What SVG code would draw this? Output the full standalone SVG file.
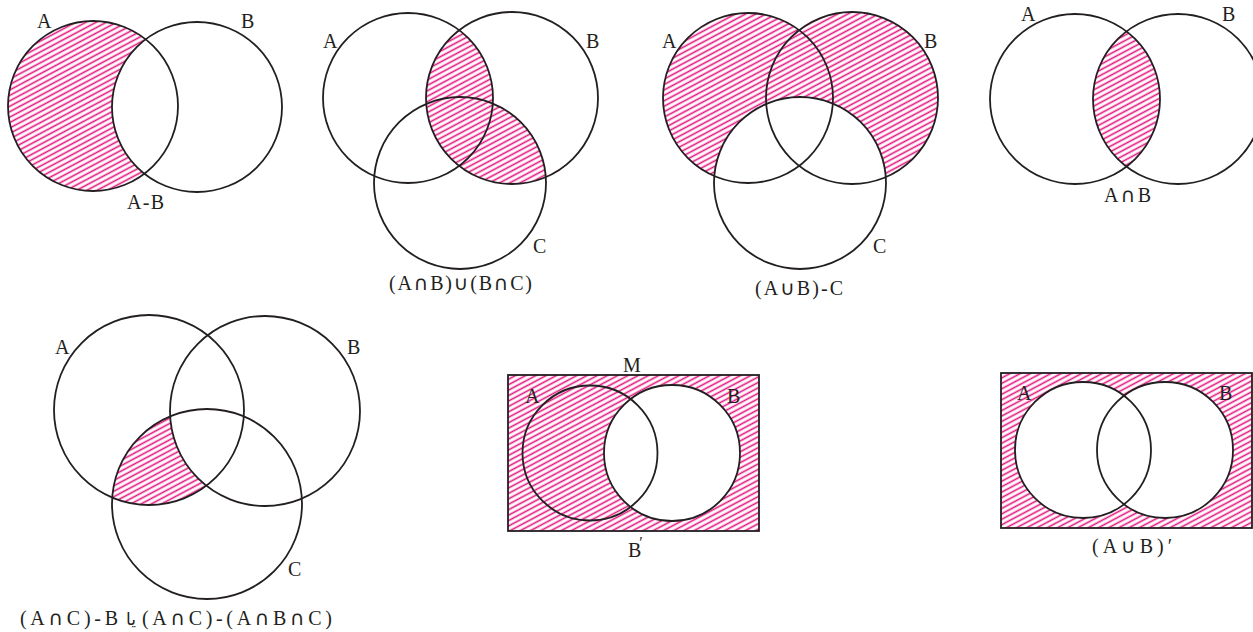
<svg xmlns="http://www.w3.org/2000/svg" width="1253" height="632" viewBox="0 0 1253 632">
<style>
.o{fill:none;stroke:#231f20;stroke-width:1.8}
.w{fill:#fff;stroke:none}
.h{fill:url(#hatch);stroke:none}
text{font-family:"Liberation Serif","DejaVu Serif",serif;font-size:20px;fill:#231f20}
.f{text-anchor:middle}
.s{font-family:"DejaVu Sans",sans-serif;font-size:20px}
</style>
<defs>
<pattern id="hatch" patternUnits="userSpaceOnUse" width="10" height="4.8" patternTransform="rotate(-28)">
<rect width="10" height="4.8" fill="#fff"/>
<line x1="0" y1="2.4" x2="10" y2="2.4" stroke="#e3147f" stroke-width="1.6"/>
</pattern>
<clipPath id="c2"><circle cx="408" cy="98" r="85"/><circle cx="460" cy="183" r="86"/></clipPath>
<clipPath id="c4"><circle cx="1178" cy="99" r="85"/></clipPath>
<clipPath id="c5"><circle cx="149" cy="410" r="95"/></clipPath>
</defs>
<rect width="1253" height="632" fill="#fff"/>

<g id="d1">
<circle class="h" cx="93" cy="106" r="85"/>
<circle class="w" cx="197" cy="107" r="85"/>
<circle class="o" cx="93" cy="106" r="85"/>
<circle class="o" cx="197" cy="107" r="85"/>
<text x="37" y="28">A</text>
<text x="241" y="28">B</text>
<text x="127" y="209" textLength="37">A-B</text>
</g>

<g id="d2">
<circle class="h" cx="512" cy="98" r="86" clip-path="url(#c2)"/>
<circle class="o" cx="408" cy="98" r="85"/>
<circle class="o" cx="512" cy="98" r="86"/>
<circle class="o" cx="460" cy="183" r="86"/>
<text x="323" y="48">A</text>
<text x="586" y="48">B</text>
<text x="533" y="253">C</text>
<text x="389" y="290" textLength="143">(A<tspan class="s">∩</tspan>B)<tspan class="s">∪</tspan>(B<tspan class="s">∩</tspan>C)</text>
</g>

<g id="d3">
<circle class="h" cx="748" cy="98" r="85"/>
<circle class="h" cx="852" cy="98" r="86"/>
<circle class="w" cx="800" cy="183" r="86"/>
<circle class="o" cx="748" cy="98" r="85"/>
<circle class="o" cx="852" cy="98" r="86"/>
<circle class="o" cx="800" cy="183" r="86"/>
<text x="662" y="48">A</text>
<text x="924" y="48">B</text>
<text x="873" y="253">C</text>
<text x="755" y="295" textLength="88">(A<tspan class="s">∪</tspan>B)-C</text>
</g>

<g id="d4">
<circle class="h" cx="1075" cy="99" r="85" clip-path="url(#c4)"/>
<circle class="o" cx="1075" cy="99" r="85"/>
<circle class="o" cx="1178" cy="99" r="85"/>
<text x="1021" y="21">A</text>
<text x="1222" y="21">B</text>
<text x="1104" y="202" textLength="47">A<tspan class="s">∩</tspan>B</text>
</g>

<g id="d5">
<circle class="h" cx="207" cy="504" r="95" clip-path="url(#c5)"/>
<circle class="w" cx="265" cy="411" r="95" clip-path="url(#c5)"/>
<circle class="o" cx="149" cy="410" r="95"/>
<circle class="o" cx="265" cy="411" r="95"/>
<circle class="o" cx="207" cy="504" r="95"/>
<text x="55" y="354">A</text>
<text x="347" y="354">B</text>
<text x="288" y="576">C</text>
<text x="20" y="625" textLength="98">(A<tspan class="s">∩</tspan>C)-B</text>
<text x="131" y="625" class="f" style="font-family:'DejaVu Sans',sans-serif;font-size:17px">یا</text>
<text x="142" y="625" textLength="190">(A<tspan class="s">∩</tspan>C)-(A<tspan class="s">∩</tspan>B<tspan class="s">∩</tspan>C)</text>
</g>

<g id="d6">
<rect class="h" x="508" y="375" width="251" height="156"/>
<circle class="w" cx="672" cy="453" r="68"/>
<rect class="o" x="508" y="375" width="251" height="156"/>
<circle class="o" cx="590" cy="453" r="67.5"/>
<circle class="o" cx="672" cy="453" r="68"/>
<text x="623" y="372">M</text>
<text x="525" y="403">A</text>
<text x="727" y="403">B</text>
<text x="628" y="557">B<tspan dx="-2" dy="-9" style="font-size:16px">′</tspan></text>
</g>

<g id="d7">
<rect class="h" x="1001" y="373" width="251" height="155"/>
<circle class="w" cx="1083" cy="450" r="68"/>
<circle class="w" cx="1165" cy="450" r="68"/>
<rect class="o" x="1001" y="373" width="251" height="155"/>
<circle class="o" cx="1083" cy="450" r="68"/>
<circle class="o" cx="1165" cy="450" r="68"/>
<text x="1017" y="400">A</text>
<text x="1219" y="400">B</text>
<text x="1092" y="553" textLength="80">(A<tspan class="s">∪</tspan>B)′</text>
</g>
</svg>
